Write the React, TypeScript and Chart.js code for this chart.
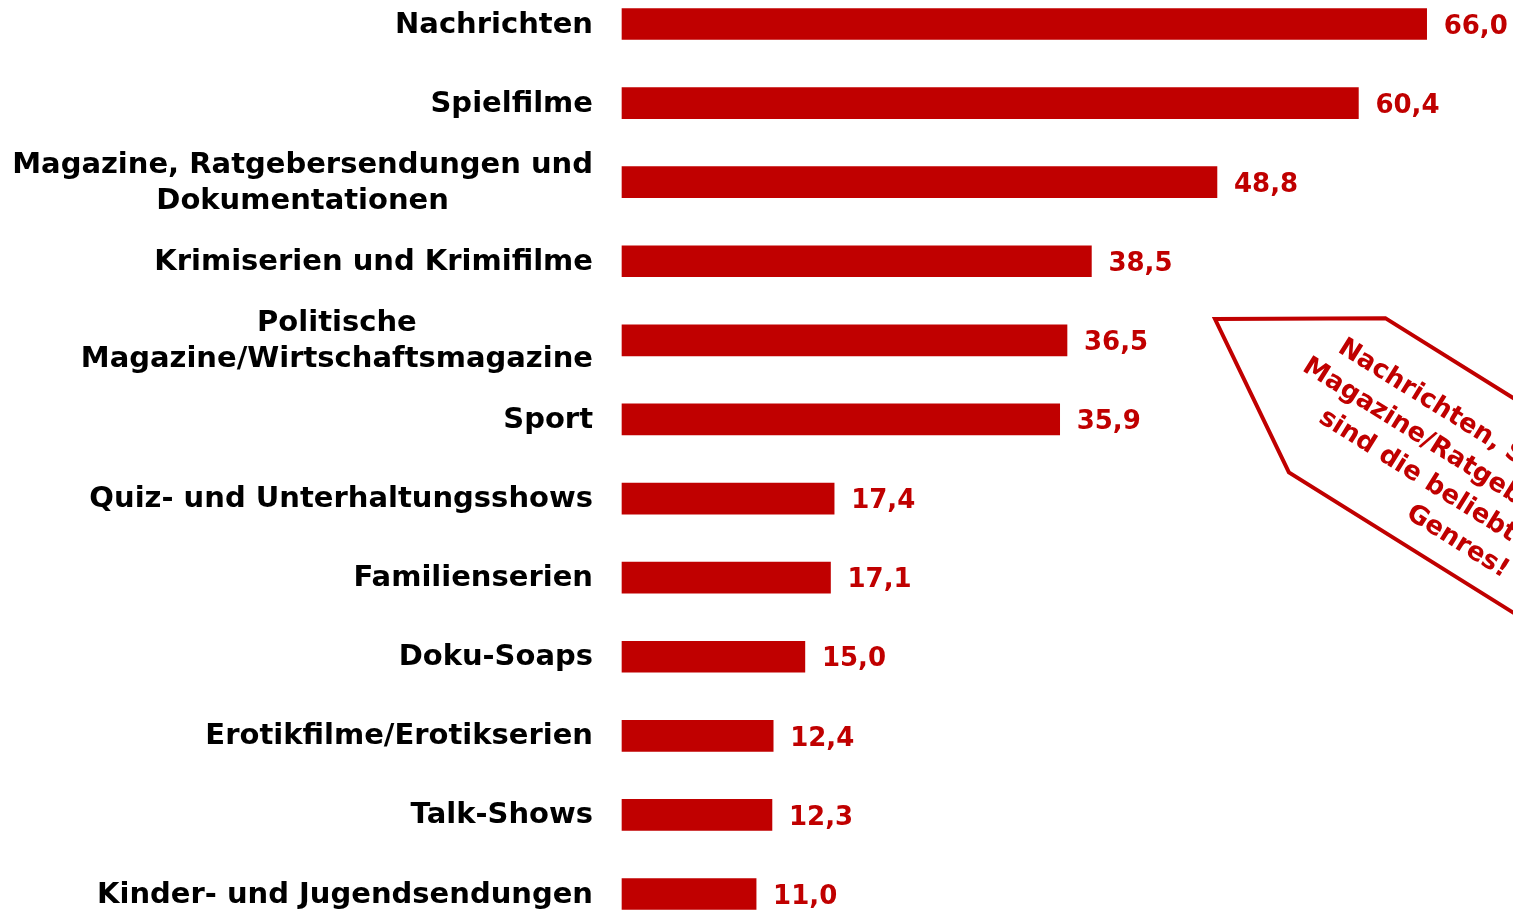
import React, { useEffect, useRef } from 'react';
import { Chart, registerables } from 'chart.js';

Chart.register(...registerables);

const categories: string[][] = [
  ['Nachrichten'],
  ['Spielfilme'],
  ['Magazine, Ratgebersendungen und', 'Dokumentationen'],
  ['Krimiserien und Krimifilme'],
  ['Politische', 'Magazine/Wirtschaftsmagazine'],
  ['Sport'],
  ['Quiz- und Unterhaltungsshows'],
  ['Familienserien'],
  ['Doku-Soaps'],
  ['Erotikfilme/Erotikserien'],
  ['Talk-Shows'],
  ['Kinder- und Jugendsendungen'],
];

const values: number[] = [66.0, 60.4, 48.8, 38.5, 36.5, 35.9, 17.4, 17.1, 15.0, 12.4, 12.3, 11.0];

const annotationLines: string[] = [
  'Nachrichten, Spielfilme und',
  'Magazine/Ratgebersendungen',
  'sind die beliebtesten TV-',
  'Genres!',
];

const RED = '#C00000';
const FONT = '"DejaVu Sans", Verdana, sans-serif';

const fmt = (v: number) => v.toFixed(1).replace('.', ',');

export default function App() {
  const ref = useRef<HTMLCanvasElement>(null);

  useEffect(() => {
    if (!ref.current) return;

    const textPlugin = {
      id: 'customText',
      afterDatasetsDraw(chart: any) {
        const ctx = chart.ctx as CanvasRenderingContext2D;
        const meta = chart.getDatasetMeta(0);
        const yScale = chart.scales.y;
        ctx.save();
        ctx.font = `bold 29px ${FONT}`;
        ctx.fillStyle = '#000000';
        ctx.textBaseline = 'middle';
        ctx.textAlign = 'center';
        const lh = 36;
        categories.forEach((lines, i) => {
          const y = yScale.getPixelForValue(i) + 1;
          const maxW = Math.max(...lines.map((l) => ctx.measureText(l).width));
          const cx = chart.chartArea.left - 29 - maxW / 2;
          lines.forEach((l, j) => {
            ctx.fillText(l, cx, y + (j - (lines.length - 1) / 2) * lh);
          });
        });
        ctx.font = `bold 26px ${FONT}`;
        ctx.fillStyle = RED;
        ctx.textAlign = 'left';
        meta.data.forEach((bar: any, i: number) => {
          ctx.fillText(fmt(values[i]), bar.x + 17, bar.y + 3);
        });
        ctx.restore();
      },
      afterDraw(chart: any) {
        const ctx = chart.ctx as CanvasRenderingContext2D;
        ctx.save();
        ctx.translate(1215, 319);
        ctx.rotate((32 * Math.PI) / 180);
        ctx.beginPath();
        ctx.moveTo(0, 0);
        ctx.lineTo(144, -91);
        ctx.lineTo(900, -91);
        ctx.lineTo(900, 91);
        ctx.lineTo(144, 91);
        ctx.closePath();
        ctx.fillStyle = '#FFFFFF';
        ctx.fill();
        ctx.lineWidth = 4;
        ctx.strokeStyle = RED;
        ctx.lineJoin = 'miter';
        ctx.stroke();
        ctx.font = `bold 26px ${FONT}`;
        ctx.fillStyle = RED;
        ctx.textAlign = 'center';
        ctx.textBaseline = 'alphabetic';
        annotationLines.forEach((l, j) => {
          ctx.fillText(l, 323.6, -37.2 + j * 34.8);
        });
        ctx.restore();
      },
    };

    const chart = new Chart(ref.current, {
      type: 'bar',
      data: {
        labels: categories,
        datasets: [
          {
            data: values,
            backgroundColor: RED,
            borderWidth: 0,
            barThickness: 31,
            clip: false as any,
          },
        ],
      },
      options: {
        indexAxis: 'y',
        responsive: false,
        animation: false,
        layout: { padding: { top: 24, bottom: 16, left: 0, right: 1 } },
        plugins: {
          legend: { display: false },
          tooltip: { enabled: false },
        },
        scales: {
          x: {
            display: false,
            min: 0,
            max: 73,
          },
          y: {
            type: 'category',
            offset: false,
            grid: { display: false, drawTicks: false },
            border: { display: false },
            ticks: { display: false },
            afterFit: (s: any) => {
              s.width = 622;
            },
          },
        },
      },
      plugins: [textPlugin],
    });

    return () => chart.destroy();
  }, []);

  return (
    <div style={{ position: 'absolute', left: 0, top: 0, width: 1513, height: 910, background: '#fff' }}>
      <canvas ref={ref} width={1513} height={910} style={{ display: 'block' }} />
    </div>
  );
}
